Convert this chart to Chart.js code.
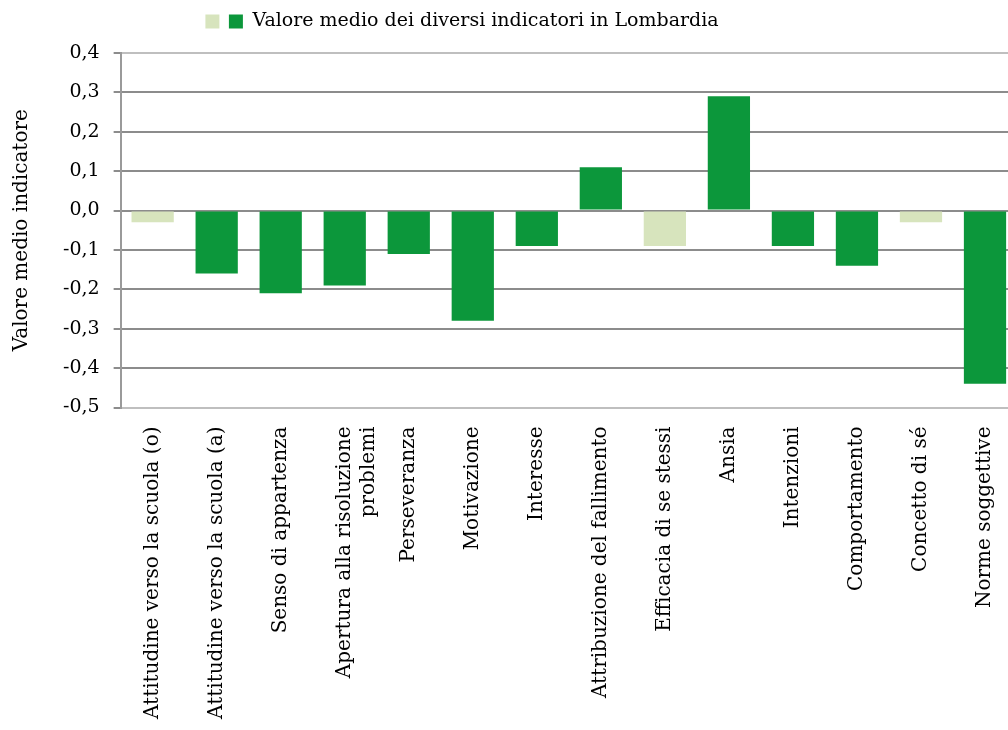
<!DOCTYPE html>
<html>
<head>
<meta charset="utf-8">
<script src="https://cdn.jsdelivr.net/npm/chart.js@4"></script>
<style>
  html, body { margin: 0; padding: 0; background: #fff; overflow: hidden; }
  #wrap { position: relative; width: 1020px; height: 730px; }
</style>
</head>
<body>
<div id="wrap"><canvas id="myChart"></canvas></div>
<script>
// categories along the x axis
var labels = [
    'Attitudine verso la scuola (o)',
    'Attitudine verso la scuola (a)',
    'Senso di appartenza',
    ['Apertura alla risoluzione', 'problemi'],
    'Perseveranza',
    'Motivazione',
    'Interesse',
    'Attribuzione del fallimento',
    'Efficacia di se stessi',
    'Ansia',
    'Intenzioni',
    'Comportamento',
    'Concetto di sé',
    'Norme soggettive'
];

// mean value of each indicator
var values = [-0.03, -0.16, -0.21, -0.19, -0.11, -0.28, -0.09, 0.11, -0.09, 0.29, -0.09, -0.14, -0.03, -0.44];

// 1 = dark green bar, 0 = light green bar
var marked = [0, 1, 1, 1, 1, 1, 1, 1, 0, 1, 1, 1, 0, 1];

var yTicks = [-0.5, -0.4, -0.3, -0.2, -0.1, 0, 0.1, 0.2, 0.3, 0.4];

var seriesName = 'Valore medio dei diversi indicatori in Lombardia';
var yTitle = 'Valore medio indicatore';

var dark = '#0c973b',
    light = '#d7e4bd';

var font = "'DejaVu Serif', 'Liberation Serif', serif";

const data = {
    labels: labels,
    datasets: [{
        label: seriesName,
        data: values,
        backgroundColor: marked.map(m => m ? dark : light),
        borderWidth: 0,
        barPercentage: 0.66,
        categoryPercentage: 1
    }]
};

/* extra room between the legend and the plot */
const legendGap = {
    id: 'legendGap',
    beforeInit: function (chart) {
        const fit = chart.legend.fit;
        chart.legend.fit = function () {
            fit.bind(chart.legend)();
            this.height += 12;
        };
    }
};

const config = {
    type: 'bar',
    data: data,
    plugins: [legendGap],
    options: {
        responsive: true,
        maintainAspectRatio: false,
        animation: false,
        layout: { padding: { left: 0, right: 0, top: 12, bottom: 0 } },
        plugins: {
            tooltip: { enabled: false },
            legend: {
                position: 'top',
                align: 'center',
                labels: {
                    font: { family: font, size: 19 },
                    color: '#000',
                    boxWidth: 14,
                    boxHeight: 14,
                    padding: 0,
                    generateLabels: function () {
                        return [
                            { text: '', fillStyle: light, strokeStyle: light, lineWidth: 0 },
                            { text: seriesName, fillStyle: dark, strokeStyle: dark, lineWidth: 0 },
                            // empty spacer so the visible part sits left of centre, as in the original
                            { text: '            ', fillStyle: 'rgba(0,0,0,0)', strokeStyle: 'rgba(0,0,0,0)', lineWidth: 0 }
                        ];
                    }
                }
            }
        },
        scales: {
            x: {
                grid: { display: false },
                border: { display: true, color: '#bfbfbf', width: 2 },
                ticks: {
                    color: '#000',
                    font: { family: font, size: 20 },
                    maxRotation: 90,
                    minRotation: 90,
                    padding: 11,
                    autoSkip: false
                }
            },
            y: {
                min: -0.5,
                max: 0.4,
                afterBuildTicks: function (axis) {
                    axis.ticks = yTicks.map(v => ({ value: v }));
                },
                grid: {
                    color: function (ctx) {
                        var v = ctx.tick ? ctx.tick.value : 0;
                        return (Math.abs(v - 0.4) < 1e-6 || Math.abs(v + 0.5) < 1e-6) ? '#bfbfbf' : '#8c8c8c';
                    },
                    lineWidth: 2,
                    tickColor: '#8c8c8c',
                    tickLength: 7
                },
                border: { display: true, color: '#9a9a9a', width: 2 },
                ticks: {
                    color: '#000',
                    font: { family: font, size: 19 },
                    padding: 14,
                    callback: function (v) { return v.toFixed(1).replace('.', ','); }
                },
                title: {
                    display: true,
                    text: yTitle,
                    color: '#000',
                    font: { family: font, size: 20 },
                    padding: { top: 10, bottom: 15 }
                }
            }
        }
    }
};

const myChart = new Chart(document.getElementById('myChart'), config);
</script>
</body>
</html>
